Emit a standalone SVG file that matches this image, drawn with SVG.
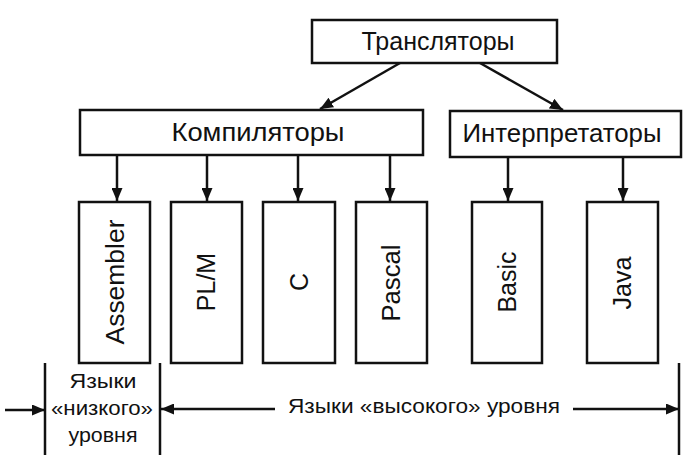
<svg xmlns="http://www.w3.org/2000/svg" width="700" height="470" viewBox="0 0 700 470">
<style>
.box{fill:#fff;stroke:#111;stroke-width:2.5}
.lbl{font-family:"Liberation Sans",Arial,sans-serif;font-size:25px;fill:#111;text-anchor:middle}
.vl{font-family:"Liberation Sans",Arial,sans-serif;font-size:25px;fill:#111;text-anchor:middle}
.bt{font-family:"Liberation Sans",Arial,sans-serif;font-size:20px;fill:#111;text-anchor:middle}
.ln{stroke:#111;stroke-width:2.5;fill:none}
.ar{stroke:#111;stroke-width:2.5;fill:none;marker-end:url(#ah)}
</style>
<defs>
<marker id="ah" markerUnits="userSpaceOnUse" markerWidth="13" markerHeight="11" refX="13" refY="5.5" orient="auto">
<path d="M0,0 L13,5.5 L0,11 z" fill="#111"/>
</marker>
</defs>
<rect width="700" height="470" fill="#fff"/>
<g id="connectors">
<line class="ar" x1="400" y1="63" x2="320" y2="109"/>
<line class="ar" x1="480" y1="63" x2="563" y2="110"/>
<line class="ar" x1="117" y1="155" x2="117" y2="201"/>
<line class="ar" x1="207" y1="155" x2="207" y2="201"/>
<line class="ar" x1="298" y1="155" x2="298" y2="201"/>
<line class="ar" x1="390" y1="155" x2="390" y2="201"/>
<line class="ar" x1="508" y1="157" x2="508" y2="201"/>
<line class="ar" x1="623" y1="157" x2="623" y2="201"/>
</g>
<g id="translyatory">
<rect class="box" x="312" y="20" width="245" height="43"/>
<text class="lbl" x="438" y="50" textLength="153" lengthAdjust="spacingAndGlyphs">Трансляторы</text>
</g>
<g id="kompilyatory">
<rect class="box" x="80" y="110" width="343" height="45"/>
<text class="lbl" x="258" y="141" textLength="173" lengthAdjust="spacingAndGlyphs">Компиляторы</text>
</g>
<g id="interpretatory">
<rect class="box" x="450" y="111" width="231" height="46"/>
<text class="lbl" x="562" y="142" textLength="199" lengthAdjust="spacingAndGlyphs">Интерпретаторы</text>
</g>
<g id="assembler">
<rect class="box" x="79" y="202" width="71" height="161"/>
<text class="vl" transform="translate(124,282) rotate(-90)" textLength="125" lengthAdjust="spacingAndGlyphs">Assembler</text>
</g>
<g id="plm">
<rect class="box" x="171" y="202" width="71" height="161"/>
<text class="vl" transform="translate(215,282) rotate(-90)">PL/M</text>
</g>
<g id="c">
<rect class="box" x="263" y="202" width="72" height="161"/>
<text class="vl" transform="translate(308,282) rotate(-90)">C</text>
</g>
<g id="pascal">
<rect class="box" x="356" y="202" width="71" height="161"/>
<text class="vl" transform="translate(400,283) rotate(-90)" textLength="77" lengthAdjust="spacingAndGlyphs">Pascal</text>
</g>
<g id="basic">
<rect class="box" x="472" y="202" width="70" height="161"/>
<text class="vl" transform="translate(516,282) rotate(-90)">Basic</text>
</g>
<g id="java">
<rect class="box" x="587" y="202" width="71" height="161"/>
<text class="vl" transform="translate(631,283) rotate(-90)">Java</text>
</g>
<g id="levels">
<line class="ln" x1="45" y1="363" x2="45" y2="455"/>
<line class="ln" x1="160" y1="363" x2="160" y2="455"/>
<line class="ln" x1="679" y1="363" x2="679" y2="455"/>
<line class="ar" x1="5" y1="410" x2="45" y2="410"/>
<line class="ar" x1="275" y1="409" x2="161" y2="409"/>
<line class="ar" x1="573" y1="409" x2="679" y2="409"/>
<text class="bt" x="103" y="388" textLength="67" lengthAdjust="spacingAndGlyphs">Языки</text>
<text class="bt" x="102" y="415" textLength="102" lengthAdjust="spacingAndGlyphs">«низкого»</text>
<text class="bt" x="103" y="442" textLength="69" lengthAdjust="spacingAndGlyphs">уровня</text>
<text class="bt" x="424" y="413" textLength="272" lengthAdjust="spacingAndGlyphs">Языки «высокого» уровня</text>
</g>
</svg>
